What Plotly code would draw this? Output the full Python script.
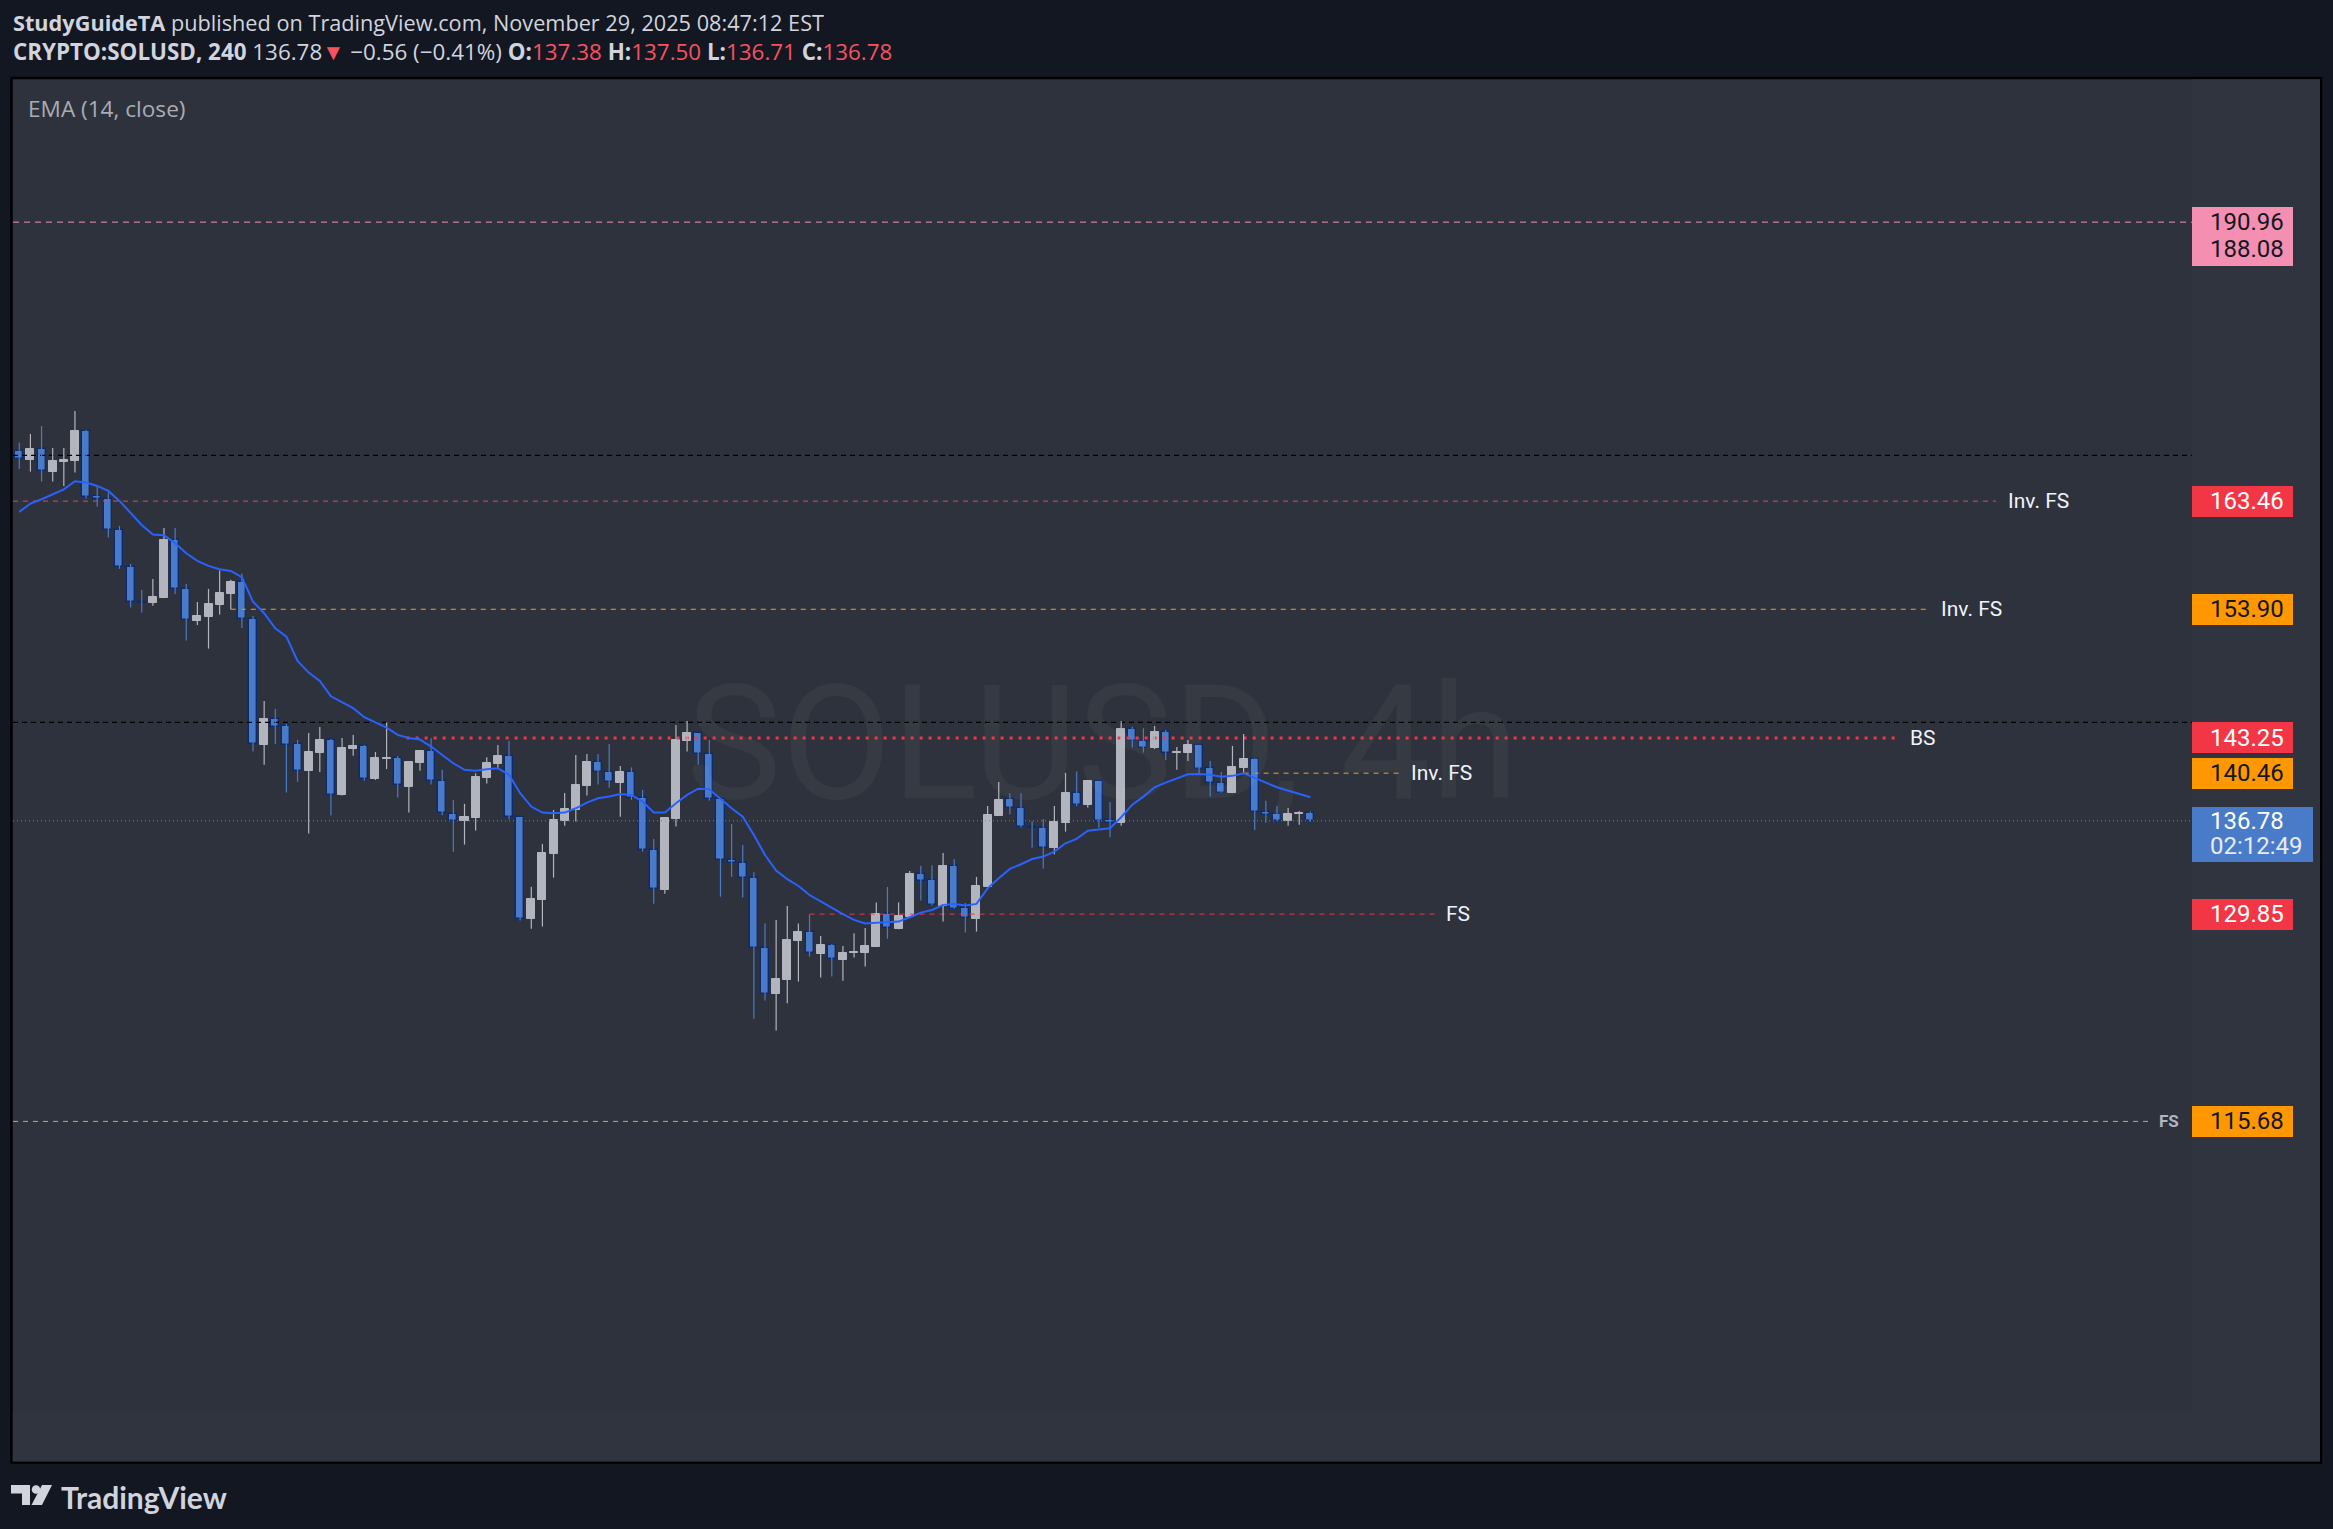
import math
import plotly.graph_objects as go

# ---------------- data (CRYPTO:SOLUSD, 240 = 4h candles) ----------------
open_ = [168.07, 167.25, 168.25, 166.17, 167.10, 167.19, 169.98, 163.90, 163.63, 160.83,
         157.54, 154.53, 154.45, 154.90, 159.93, 155.62, 152.93, 153.27, 154.30, 155.24,
         156.23, 153.04, 142.72, 144.75, 144.18, 142.74, 140.66, 142.08, 143.06, 138.77,
         142.40, 142.58, 140.01, 141.60, 141.63, 139.41, 141.29, 142.21, 139.83, 137.33,
         136.74, 137.03, 140.12, 141.21, 141.79, 137.05, 129.52, 130.90, 134.30, 136.79,
         137.64, 139.49, 141.34, 140.53, 139.72, 140.53, 138.51, 134.55, 131.63, 136.95,
         143.04, 143.62, 141.95, 138.46, 133.80, 133.58, 132.47, 127.42, 124.17, 125.19,
         127.95, 128.54, 127.02, 127.61, 126.60, 127.08, 127.08, 127.52, 129.84, 128.80,
         129.65, 132.77, 132.32, 130.47, 133.36, 130.27, 129.52, 131.85, 137.18, 138.43,
         137.74, 136.31, 136.21, 134.75, 136.64, 138.90, 138.00, 139.83, 136.82, 136.59,
         143.94, 142.98, 142.48, 143.70, 142.05, 142.08, 142.66, 140.85, 139.67, 138.95,
         140.87, 141.55, 137.49, 137.28, 136.79, 137.33, 137.38]

high = [168.88, 169.70, 170.45, 168.38, 168.38, 171.89, 170.08, 164.91, 164.24, 161.21,
        157.84, 155.56, 156.52, 161.03, 161.03, 156.09, 154.53, 155.65, 157.25, 156.44,
        156.99, 153.33, 146.23, 145.58, 144.37, 143.09, 143.65, 144.13, 143.17, 143.25,
        143.49, 142.69, 142.13, 144.50, 141.81, 141.42, 142.29, 143.22, 140.72, 138.38,
        138.08, 140.46, 141.71, 142.69, 143.01, 137.07, 131.85, 135.03, 137.61, 138.92,
        141.89, 141.97, 141.97, 142.77, 141.03, 140.92, 139.15, 135.41, 137.02, 144.29,
        144.61, 143.64, 143.09, 138.48, 136.54, 134.95, 132.92, 129.18, 129.43, 130.44,
        129.18, 129.84, 128.28, 127.70, 127.57, 128.47, 128.85, 130.70, 131.83, 130.70,
        133.01, 133.39, 133.44, 134.35, 133.90, 130.66, 132.57, 137.92, 139.78, 138.90,
        138.90, 136.74, 136.92, 137.92, 140.48, 140.59, 139.88, 139.85, 138.23, 144.61,
        144.15, 144.02, 144.21, 143.89, 142.53, 143.09, 142.68, 141.42, 140.56, 142.61,
        143.57, 141.63, 138.31, 137.92, 137.77, 137.54, 137.50]

low = [166.42, 166.17, 165.25, 165.25, 164.85, 166.08, 163.69, 162.96, 160.17, 157.40,
       154.04, 153.61, 154.21, 154.88, 155.22, 151.24, 152.56, 150.56, 153.44, 153.90,
       152.30, 142.16, 141.13, 142.77, 138.95, 139.80, 135.81, 140.56, 137.18, 138.72,
       141.84, 139.88, 139.93, 140.79, 138.56, 137.41, 140.66, 139.57, 137.20, 134.45,
       134.98, 136.04, 139.65, 140.85, 136.90, 129.38, 128.80, 128.95, 132.52, 136.41,
       136.72, 138.72, 139.57, 139.33, 137.10, 138.38, 134.45, 130.61, 131.34, 136.34,
       142.16, 141.13, 138.33, 131.12, 132.59, 131.05, 122.50, 123.74, 121.69, 123.56,
       125.06, 126.81, 125.34, 125.41, 125.12, 126.74, 126.11, 127.50, 128.07, 128.76,
       129.63, 130.83, 130.47, 129.31, 130.23, 128.52, 128.59, 131.83, 137.16, 137.26,
       136.27, 134.75, 133.19, 134.25, 135.96, 137.92, 137.79, 136.26, 135.53, 136.41,
       142.48, 142.08, 142.37, 141.50, 140.72, 141.42, 140.46, 138.64, 138.93, 138.93,
       140.46, 136.08, 136.64, 136.77, 136.41, 136.49, 136.71]

close = [167.32, 168.29, 166.21, 167.16, 167.25, 169.98, 163.87, 163.66, 160.83, 157.54,
         154.48, 154.45, 154.96, 159.96, 155.62, 152.96, 153.33, 154.36, 155.30, 156.26,
         153.04, 142.74, 144.78, 144.15, 142.72, 140.66, 142.13, 143.09, 138.79, 142.45,
         142.61, 140.04, 141.66, 141.66, 139.52, 141.34, 142.21, 139.83, 137.36, 136.74,
         137.08, 140.17, 141.26, 141.81, 137.08, 129.52, 130.95, 134.35, 136.85, 137.69,
         139.54, 141.34, 140.53, 139.75, 140.56, 138.51, 134.55, 131.66, 137.00, 143.12,
         143.65, 141.95, 138.46, 133.80, 133.58, 132.47, 127.42, 124.17, 125.24, 127.99,
         128.54, 127.04, 127.61, 126.62, 127.04, 127.11, 127.57, 129.84, 128.82, 129.70,
         132.77, 132.30, 130.49, 133.39, 130.25, 129.55, 131.90, 137.23, 138.38, 137.74,
         136.29, 136.26, 134.75, 136.69, 138.92, 138.02, 139.86, 136.79, 136.59, 143.97,
         142.98, 142.48, 143.73, 142.03, 142.11, 142.69, 140.82, 139.67, 138.95, 140.95,
         141.58, 137.49, 137.26, 136.79, 137.28, 137.36, 136.78]

ema14 = [162.48, 163.24, 163.63, 164.11, 164.54, 165.28, 165.16, 164.85, 164.39, 163.48,
         162.36, 161.30, 160.44, 160.38, 159.67, 158.78, 158.10, 157.66, 157.37, 157.22,
         156.67, 154.56, 153.56, 152.28, 151.57, 149.53, 148.56, 147.87, 146.61, 146.10,
         145.64, 144.91, 144.48, 144.07, 143.49, 143.25, 143.12, 142.56, 141.89, 141.24,
         140.72, 140.66, 140.77, 140.85, 140.33, 138.90, 137.87, 137.41, 137.36, 137.41,
         137.74, 138.18, 138.51, 138.64, 138.84, 138.77, 138.25, 137.41, 137.41, 138.13,
         138.77, 139.25, 139.20, 138.43, 137.74, 137.10, 135.71, 134.20, 133.04, 132.40,
         131.90, 131.24, 130.76, 130.28, 129.84, 129.43, 129.18, 129.23, 129.26, 129.31,
         129.62, 129.96, 130.15, 130.52, 130.59, 130.47, 130.59, 131.73, 132.47, 133.16,
         133.51, 133.90, 134.08, 134.45, 135.08, 135.41, 136.03, 136.13, 136.21, 137.05,
         138.02, 138.64, 139.36, 139.72, 140.07, 140.38, 140.40, 140.33, 140.19, 140.25,
         140.46, 140.07, 139.72, 139.36, 139.10, 138.90, 138.59]

# horizontal levels drawn on the chart and their text
level_price = [190.96, 167.69, 163.46, 153.90, 144.50, 143.25, 140.46, 136.78, 129.85, 115.68]
level_text = ["", "", "Inv. FS", "Inv. FS", "", "BS", "Inv. FS", "", "FS", "FS"]

# price-scale tags
tag_price = [190.96, 188.08, 163.46, 153.90, 143.25, 140.46, 136.78, 129.85, 115.68]
countdown = "02:12:49"

header_user = "StudyGuideTA"
header_rest = " published on TradingView.com, November 29, 2025 08:47:12 EST"
symbol = "CRYPTO:SOLUSD, 240"
change_text = "\u22120.56 (\u22120.41%)"
watermark = "SOLUSD, 4h"

# ---------------- geometry / styles ----------------
W, H = 2333, 1529
PL, PR, PT, PB = 13, 2192, 79, 1412          # plot area in pixels
X0, DX = 19.3, 11.13                          # first candle centre, candle spacing (px)
XR = [(PL - X0) / DX, (PR - X0) / DX]
YR = [1.99292, 2.31559]                       # log10 price range

BG = "#131722"
PANEL = "#2e323c"
AXISBG = "#30343e"
UP = "#b2b5be"
DN = "#4a7bc8"
DN_BORDER = "#0e2a6e"
RED = "#f23645"
ORANGE = "#ff9800"
PINK = "#f48fb1"
TXT = "#d1d4dc"


def px_x(px):
    return (px - PL) / (PR - PL)


def px_y(py):
    return (PB - py) / (PB - PT)


def log_at_px(py):
    return YR[1] - (py - PT) / (PB - PT) * (YR[1] - YR[0])


n = len(close)
idx = list(range(n))

# level line styles (parallel to level_price): start/end in candle-index units
level_style = [
    dict(color=PINK, dash="6px,5px", width=1, start=XR[0], end=XR[1]),
    dict(color="#000000", dash="5px,4px", width=1.2, start=XR[0], end=XR[1]),
    dict(color="#e04b55", dash="5px,5px", width=1, start=XR[0], end=177.6, tx=178.5),
    dict(color="#f0a030", dash="5px,5px", width=1, start=19, end=171.5, tx=172.5),
    dict(color="#000000", dash="5px,4px", width=1.2, start=XR[0], end=XR[1]),
    dict(color=RED, dash="3px,6px", width=3, start=34.8, end=169.0, tx=169.7),
    dict(color="#f0a030", dash="5px,5px", width=1, start=110, end=124.0, tx=124.9),
    dict(color="#5b86c9", dash="1px,3px", width=1, start=XR[0], end=XR[1]),
    dict(color=RED, dash="5px,5px", width=1, start=71, end=127.2, tx=128.0),
    dict(color="#f0a030", dash="5px,5px", width=1, start=XR[0], end=191.4, tx=192.1),
]

fig = go.Figure()

# watermark (first trace -> beneath everything)
fig.add_trace(go.Scatter(
    x=[(XR[0] + XR[1]) / 2], y=[10 ** log_at_px(758)], mode="text",
    text=[watermark], textposition="middle center",
    textfont=dict(family="Roboto", size=160, color="rgba(255,255,255,0.04)"),
    hoverinfo="skip", showlegend=False))

# level lines
for p, st in zip(level_price, level_style):
    fig.add_trace(go.Scatter(
        x=[st["start"], st["end"]], y=[p, p], mode="lines",
        line=dict(color=st["color"], dash=st["dash"], width=st["width"]),
        hoverinfo="skip", showlegend=False))

up = [i for i in idx if close[i] >= open_[i]]
dn = [i for i in idx if close[i] < open_[i]]


def wick_xy(ids):
    xs, ys = [], []
    for i in ids:
        xs += [i, i, None]
        ys += [low[i], high[i], None]
    return xs, ys


for ids, col in ((up, UP), (dn, DN)):
    wx, wy = wick_xy(ids)
    fig.add_trace(go.Scatter(x=wx, y=wy, mode="lines", line=dict(color=col, width=1.2),
                             hoverinfo="skip", showlegend=False, connectgaps=False))

fig.add_trace(go.Bar(
    x=up, y=[close[i] - open_[i] for i in up], base=[open_[i] for i in up],
    width=0.72, marker=dict(color=UP, line=dict(color=UP, width=1)),
    hoverinfo="skip", showlegend=False))
fig.add_trace(go.Bar(
    x=dn, y=[open_[i] - close[i] for i in dn], base=[close[i] for i in dn],
    width=0.72, marker=dict(color=DN, line=dict(color=DN_BORDER, width=1.4)),
    hoverinfo="skip", showlegend=False))

# EMA 14
fig.add_trace(go.Scatter(x=idx, y=ema14, mode="lines", line=dict(color="#2962ff", width=2),
                         hoverinfo="skip", showlegend=False))

shapes = []
annotations = []

# panel + axis areas
shapes.append(dict(type="rect", xref="paper", yref="paper", layer="below",
                   x0=px_x(11.5), x1=px_x(2321), y0=px_y(78), y1=px_y(1462.5),
                   fillcolor=PANEL, line=dict(color="#000000", width=2.5)))
shapes.append(dict(type="rect", xref="paper", yref="paper", layer="below",
                   x0=px_x(PR), x1=px_x(2320), y0=px_y(79.5), y1=px_y(1461.5),
                   fillcolor=AXISBG, line=dict(width=0)))
shapes.append(dict(type="rect", xref="paper", yref="paper", layer="below",
                   x0=px_x(12.8), x1=px_x(PR), y0=px_y(PB), y1=px_y(1461.5),
                   fillcolor=AXISBG, line=dict(width=0)))

# level text labels
for p, t, st in zip(level_price, level_text, level_style):
    if not t:
        continue
    small = (p == level_price[-1])
    annotations.append(dict(
        x=st["tx"], y=math.log10(p), xref="x", yref="y", xanchor="left", yanchor="middle",
        text=("<b>%s</b>" % t) if small else t, showarrow=False,
        font=dict(family="Roboto", size=17 if small else 21, color="#b2b5be" if small else "#f0f3fa")))

# price tags: coloured boxes (annotations with background) then their text
tag_style = {
    190.96: (PINK, "#131722"),
    188.08: (None, "#131722"),
    163.46: (RED, "#ffffff"),
    153.90: (ORANGE, "#131722"),
    143.25: (RED, "#ffffff"),
    140.46: (ORANGE, "#131722"),
    136.78: (DN, "#ffffff"),
    129.85: (RED, "#ffffff"),
    115.68: (ORANGE, "#131722"),
}
for p in tag_price:
    fill, tcol = tag_style[p]
    if fill is None:
        continue
    if p == tag_price[0]:
        bw, bh, ys = 101, 59, -14.5
    elif p == close[-1]:
        bw, bh, ys = 121, 55, -13.5
    else:
        bw, bh, ys = 101, 31, 0
    annotations.append(dict(x=px_x(PR), y=math.log10(p), yshift=ys, xref="paper", yref="y",
                            xanchor="left", yanchor="middle", text="\u00a0", showarrow=False,
                            width=bw, height=bh, bgcolor=fill, borderpad=0, borderwidth=0,
                            font=dict(family="Roboto", size=10, color=fill)))
for p in tag_price:
    fill, tcol = tag_style[p]
    annotations.append(dict(x=px_x(2208), y=math.log10(p), xref="paper", yref="y",
                            xanchor="left", yanchor="middle", text="%.2f" % p, showarrow=False,
                            font=dict(family="Roboto", size=24, color=tcol)))
annotations.append(dict(x=px_x(2208), y=math.log10(close[-1]), yshift=-25, xref="paper", yref="y",
                        xanchor="left", yanchor="middle", text=countdown, showarrow=False,
                        font=dict(family="Roboto", size=24, color="#e6ebf5")))

# header
red_span = "<span style='color:#f7525f'>%s</span>"
line2 = ("<b>%s</b> %.2f%s %s <b>O:</b>%s <b>H:</b>%s <b>L:</b>%s <b>C:</b>%s" % (
    symbol, close[-1], red_span % "\u25bc", change_text,
    red_span % ("%.2f" % open_[-1]), red_span % ("%.2f" % high[-1]),
    red_span % ("%.2f" % low[-1]), red_span % ("%.2f" % close[-1])))
annotations.append(dict(x=px_x(11), y=px_y(22), xref="paper", yref="paper", xanchor="left",
                        yanchor="middle", showarrow=False,
                        text="<b>%s</b>%s" % (header_user, header_rest),
                        font=dict(family="Open Sans", size=21.7, color=TXT)))
annotations.append(dict(x=px_x(11), y=px_y(52), xref="paper", yref="paper", xanchor="left",
                        yanchor="middle", showarrow=False, text=line2,
                        font=dict(family="Open Sans", size=22.4, color=TXT)))
annotations.append(dict(x=px_x(26), y=px_y(108), xref="paper", yref="paper", xanchor="left",
                        yanchor="middle", showarrow=False, text="EMA (14, close)",
                        font=dict(family="Open Sans", size=22.6, color="#a9acb5")))

# TradingView logo


def pt(px, py):
    return "%.5f,%.5f" % (px_x(px), px_y(py))


shapes.append(dict(type="path", xref="paper", yref="paper", layer="above",
                   path="M %s L %s L %s L %s L %s L %s Z" % (
                       pt(11, 1485), pt(30, 1485), pt(30, 1505), pt(22, 1505), pt(22, 1493.5), pt(11, 1493.5)),
                   fillcolor=TXT, line=dict(width=0)))
shapes.append(dict(type="circle", xref="paper", yref="paper", layer="above",
                   x0=px_x(31.7), x1=px_x(40.3), y0=px_y(1493.8), y1=px_y(1485.2),
                   fillcolor=TXT, line=dict(width=0)))
shapes.append(dict(type="path", xref="paper", yref="paper", layer="above",
                   path="M %s L %s L %s L %s Z" % (pt(42, 1485), pt(52, 1485), pt(42, 1505), pt(31.5, 1505)),
                   fillcolor=TXT, line=dict(width=0)))
annotations.append(dict(x=px_x(59), y=px_y(1496.5), xref="paper", yref="paper", xanchor="left",
                        yanchor="middle", showarrow=False, text="<b>TradingView</b>",
                        font=dict(family="Lato", size=30, color=TXT)))

fig.update_layout(
    width=W, height=H,
    margin=dict(l=PL, r=W - PR, t=PT, b=H - PB, pad=0),
    paper_bgcolor=BG, plot_bgcolor="rgba(0,0,0,0)",
    barmode="overlay", bargap=0, showlegend=False, hovermode=False,
    xaxis=dict(range=XR, showgrid=False, zeroline=False, showticklabels=False,
               showline=False, ticks="", fixedrange=True),
    yaxis=dict(type="log", range=YR, showgrid=False, zeroline=False, showticklabels=False,
               showline=False, ticks="", fixedrange=True),
    shapes=shapes, annotations=annotations,
)

fig.write_html("out.html", config={"displayModeBar": False},
               post_script="document.body.style.margin='0px';"
                           "document.body.style.backgroundColor='%s';"
                           "document.body.style.overflow='hidden';" % BG)
